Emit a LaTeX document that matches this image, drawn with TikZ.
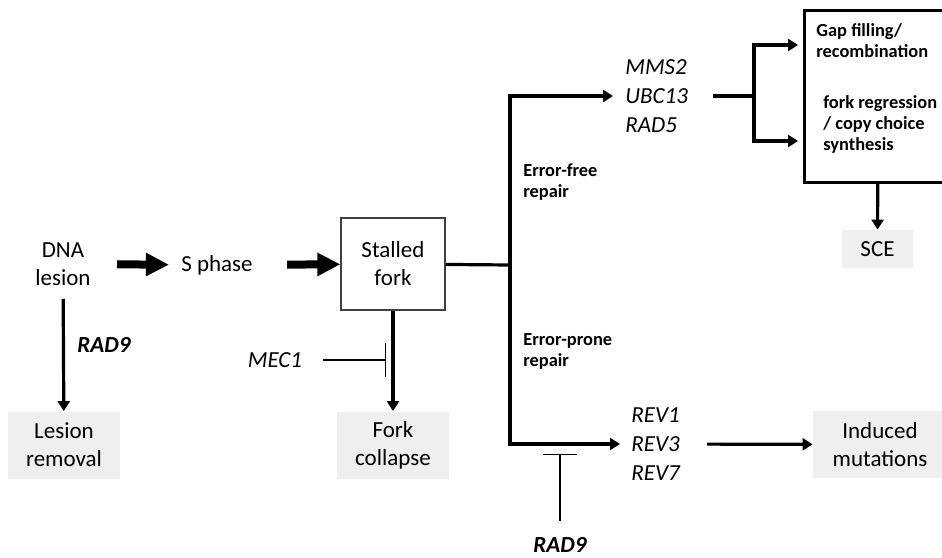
\documentclass[tikz,border=0pt]{standalone}
\usepackage{fontspec}
\setmainfont{Carlito}
\usetikzlibrary{arrows.meta,positioning}
\definecolor{boxgray}{RGB}{239,239,239}

\begin{document}
\begin{tikzpicture}[
    x=0.5pt, y=-0.5pt,
    txt/.style={inner sep=0pt, align=center, font=\fontsize{11.5}{14}\selectfont},
    gene/.style={inner sep=0pt, align=left, font=\fontsize{11.5}{14.5}\selectfont\itshape},
    note/.style={inner sep=0pt, align=left, font=\fontsize{9.2}{10.5}\selectfont\bfseries},
    result/.style={fill=boxgray, align=center, inner sep=0pt, minimum width=56pt, minimum height=33.5pt, font=\fontsize{11.5}{14}\selectfont},
    link/.style={-{Triangle[length=5pt,width=6pt]}, line width=1.6pt},
    fat/.style={-{Triangle[length=11.5pt,width=11pt]}, line width=4pt},
    block/.style={-{Bar[width=17pt]}, line width=0.6pt}
]
\useasboundingbox (0,0) rectangle (942,557);

% main route
\node[txt] (lesion) at (63,264) {DNA\\lesion};
\node[txt] (sphase) at (217,265) {S phase};
\node[txt, draw=black!75, line width=0.6pt, minimum width=52pt, minimum height=46pt] (fork) at (393,264) {Stalled\\fork};
\node[result] (removal) at (64,445) {Lesion\\removal};
\node[result] (collapse) at (393,445) {Fork\\collapse};
\node[gene] (mec) at (275,360) {MEC1};
\node[txt, font=\fontsize{11.5}{14}\selectfont\bfseries\itshape] (rad9a) at (104,345) {RAD9};

\draw[fat, shorten <=13pt, shorten >=6pt] (lesion) -- (sphase);
\draw[fat, shorten <=17pt] (sphase) -- (fork);
\draw[link, shorten <=6.5pt] (lesion) -- (removal);
\draw[link] (fork) -- (collapse);
\coordinate (mecbar) at (386,360);
\draw[block, shorten <=10pt] (mec) -- (mecbar);

% repair branches
\coordinate (split) at (510,265);
\node[gene, anchor=west] (mms) at (625,96) {MMS2\\UBC13\\RAD5};
\node[gene, anchor=west] (rev) at (631,444) {REV1\\REV3\\REV7};
\node[note, anchor=west] (free) at (523,182) {Error-free\\repair};
\node[note, anchor=west] (prone) at (523,351) {Error-prone\\repair};

\draw[line width=1.6pt] (fork) -- (split);
\draw[link, shorten >=6pt] (split) |- (mms.west);
\draw[link, shorten >=5.5pt] (split) |- (rev.west);

% error-free outcomes
\node[draw, line width=1.5pt, minimum width=74pt, minimum height=86pt] (outcome) at (878,96) {};
\node[note, anchor=west] (gap) at (816,41) {Gap filling/\\recombination};
\node[note, anchor=west] (regress) at (823,124) {fork regression\\/ copy choice\\synthesis};
\node[result, minimum width=35.5pt, minimum height=19pt] (sce) at (877.5,249) {SCE};

\coordinate (msplit) at (754,96);
\coordinate (gapin) at (798,45);
\coordinate (regin) at (798,141);
\draw[line width=1.6pt, shorten <=12.5pt] (mms) -- (msplit);
\draw[link] (msplit) |- (gapin);
\draw[link] (msplit) |- (regin);
\draw[link] (outcome) -- (sce);

% error-prone outcome
\node[result, minimum width=67pt] (induced) at (880,444.5) {Induced\\mutations};
\node[txt, font=\fontsize{11.5}{14}\selectfont\bfseries\itshape] (rad9b) at (560,545) {RAD9};
\coordinate (revbar) at (560,454);

\draw[link, shorten <=13.5pt] (rev) -- (induced);
\draw[block, shorten <=8pt] (rad9b) -- (revbar);
\end{tikzpicture}
\end{document}
